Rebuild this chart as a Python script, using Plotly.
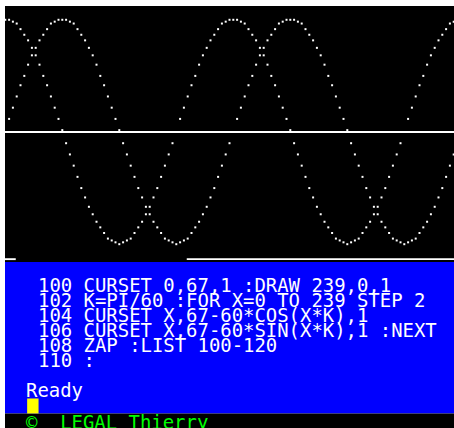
import plotly.graph_objects as go

# ---- data: Oric HIRES points plotted by the BASIC program (Oric pixel units) ----
x_pixels = [0, 2, 4, 6, 8, 10, 12, 14, 16, 18, 20, 22, 24, 26, 28, 30, 32, 34, 36, 38,
            40, 42, 44, 46, 48, 50, 52, 54, 56, 58, 60, 62, 64, 66, 68, 70, 72, 74, 76, 78,
            80, 82, 84, 86, 88, 90, 92, 94, 96, 98, 100, 102, 104, 106, 108, 110, 112, 114, 116, 118,
            120, 122, 124, 126, 128, 130, 132, 134, 136, 138, 140, 142, 144, 146, 148, 150, 152, 154, 156, 158,
            160, 162, 164, 166, 168, 170, 172, 174, 176, 178, 180, 182, 184, 186, 188, 190, 192, 194, 196, 198,
            200, 202, 204, 206, 208, 210, 212, 214, 216, 218, 220, 222, 224, 226, 228, 230, 232, 234, 236, 238]

y_cos = [7, 7, 8, 9, 12, 15, 18, 22, 26, 31, 37, 42, 48, 54, 60, 66, 73, 79, 85, 91,
         97, 102, 107, 111, 115, 118, 121, 124, 125, 126, 127, 126, 125, 124, 121, 118, 115, 111, 107, 102,
         97, 91, 85, 79, 73, 67, 60, 54, 48, 42, 37, 31, 26, 22, 18, 15, 12, 9, 8, 7,
         7, 7, 8, 9, 12, 15, 18, 22, 26, 31, 37, 42, 48, 54, 60, 66, 73, 79, 85, 91,
         97, 102, 107, 111, 115, 118, 121, 124, 125, 126, 127, 126, 125, 124, 121, 118, 115, 111, 107, 102,
         97, 91, 85, 79, 73, 67, 60, 54, 48, 42, 37, 31, 26, 22, 18, 15, 12, 9, 8, 7]

y_sin = [67, 60, 54, 48, 42, 37, 31, 26, 22, 18, 15, 12, 9, 8, 7, 7, 7, 8, 9, 12,
         15, 18, 22, 26, 31, 37, 42, 48, 54, 60, 66, 73, 79, 85, 91, 97, 102, 107, 111, 115,
         118, 121, 124, 125, 126, 127, 126, 125, 124, 121, 118, 115, 111, 107, 102, 97, 91, 85, 79, 73,
         67, 60, 54, 48, 42, 37, 31, 26, 22, 18, 15, 12, 9, 8, 7, 7, 7, 8, 9, 12,
         15, 18, 22, 26, 31, 37, 42, 48, 54, 60, 66, 73, 79, 85, 91, 97, 102, 107, 111, 115,
         118, 121, 124, 125, 126, 127, 126, 125, 124, 121, 118, 115, 111, 107, 102, 97, 91, 85, 79, 73]

# DRAW line (y=67) and leftover line segments (Oric pixel units)
axis_line_y = 67
axis_line_x = [0, 239]
old_line_y = 135
old_line_segments = [[0, 5], [96, 239]]

# text screen content
code_lines = [
    "100 CURSET 0,67,1 :DRAW 239,0,1",
    "102 K=PI/60 :FOR X=0 TO 239 STEP 2",
    "104 CURSET X,67-60*COS(X*K),1",
    "106 CURSET X,67-60*SIN(X*K),1 :NEXT",
    "108 ZAP :LIST 100-120",
    "110 :",
]
ready_text = "Ready"
status_text = "\u00a9  LEGAL Thierry"

# ---- geometry: screen pixel -> Oric coordinate ----
W, H = 454, 428
SX, SY = 1.9, 1.87          # screen px per Oric px
OX, OY = 5.3, 6.7           # screen centre of Oric pixel 0


def dx(px):
    return (px - OX) / SX


def dy(py):
    return (py - OY) / SY


fig = go.Figure()

# background panels
shapes = [
    dict(type="rect", x0=dx(5), x1=dx(W + 2), y0=dy(6), y1=dy(262), fillcolor="#000000", line_width=0, layer="below"),
    dict(type="rect", x0=dx(5), x1=dx(W + 2), y0=dy(262), y1=dy(413.4), fillcolor="#0000FF", line_width=0, layer="below"),
    dict(type="rect", x0=dx(5), x1=dx(W + 2), y0=dy(413.4), y1=dy(H + 2), fillcolor="#000000", line_width=0, layer="below"),
]
# DRAW line
shapes.append(dict(type="rect", x0=axis_line_x[0] - 0.5, x1=axis_line_x[1] + 0.5,
                   y0=axis_line_y - 0.5, y1=axis_line_y + 0.5, fillcolor="#FFFFFF", line_width=0, layer="below"))
for a, b in old_line_segments:
    shapes.append(dict(type="rect", x0=a - 0.5, x1=b + 0.5, y0=old_line_y - 0.5, y1=old_line_y + 0.5,
                       fillcolor="#FFFFFF", line_width=0, layer="below"))

# text cells (Oric 6x8 character cells)
CELL_W, CELL_H = 6, 8
ROW0_TOP = 145.5


def cell_x(col):
    return CELL_W * col - 0.5


def cell_y(row):
    return ROW0_TOP + CELL_H * row


# cursor block (col 2, row 8)
shapes.append(dict(type="rect", x0=cell_x(2), x1=cell_x(3), y0=cell_y(8), y1=cell_y(9),
                   fillcolor="#FFFF00", line_width=0, layer="below"))

# curves
for ys in (y_cos, y_sin):
    fig.add_trace(go.Scatter(x=x_pixels, y=ys, mode="markers",
                             marker=dict(symbol="square", size=2, color="#FFFFFF", line=dict(width=0)),
                             hoverinfo="skip", showlegend=False))

FONT = "DejaVu Sans Mono"
FSIZE = 18.93
annotations = []


def add_lines(lines, col0, row0, color, yshift=0.0):
    for r, line in enumerate(lines):
        annotations.append(dict(
            x=cell_x(col0) - 0.5, y=cell_y(row0 + r) + 3.5 + yshift,
            xref="x", yref="y", text=line, showarrow=False,
            xanchor="left", yanchor="middle", align="left",
            borderpad=0, borderwidth=0,
            font=dict(family=FONT, size=FSIZE, color=color)))


add_lines(code_lines, 3, 0, "#FFFFFF")
add_lines([ready_text], 2, 7, "#FFFFFF")
add_lines([status_text], 2, 9, "#00FF00", yshift=1.0)

fig.update_layout(
    width=W, height=H, margin=dict(l=0, r=0, t=0, b=0),
    paper_bgcolor="#FFFFFF", plot_bgcolor="#FFFFFF",
    shapes=shapes, annotations=annotations,
    xaxis=dict(range=[dx(0), dx(W)], visible=False, fixedrange=True),
    yaxis=dict(range=[dy(H), dy(0)], visible=False, fixedrange=True),
    showlegend=False,
)

fig.write_html("out.html", config={"displayModeBar": False, "staticPlot": True},
               post_script="document.body.style.margin='0px';document.body.style.overflow='hidden';")
